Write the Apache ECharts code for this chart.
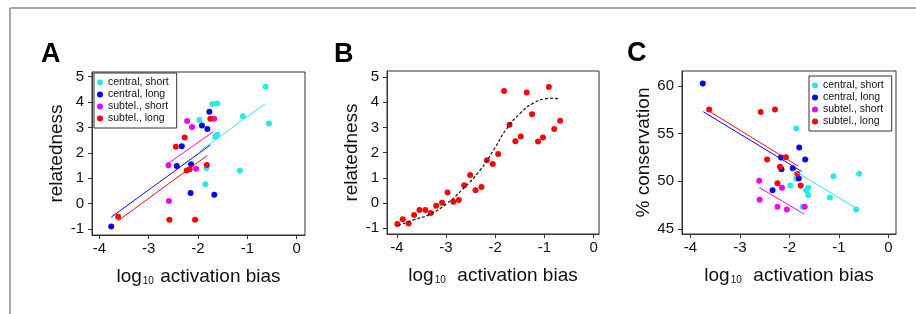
<!DOCTYPE html>
<html>
<head>
<meta charset="utf-8">
<script src="https://cdn.jsdelivr.net/npm/echarts@6/dist/echarts.min.js"></script>
<style>
  html, body { margin: 0; padding: 0; background: #fff; }
  #chart { width: 916px; height: 314px; }
</style>
</head>
<body>
<div id="chart"></div>
<script>
  // group names (legend)
  var groups = ['central, short', 'central, long', 'subtel., short', 'subtel., long'];
  var groupColors = ['#2fe6e6', '#0808e8', '#ee08ee', '#f00a0a'];

  // panel A: relatedness vs log10 activation bias
  var relCentralShort = [[-0.63, 4.6], [-0.56, 3.15], [-1.09, 3.44], [-1.15, 1.3], [-1.71, 3.92], [-1.61, 3.94],
    [-1.97, 3.29], [-1.61, 2.71], [-1.65, 2.63], [-1.83, 1.4], [-1.85, 0.77]];
  var relCentralLong = [[-3.76, -0.9], [-2.43, 1.48], [-2.33, 2.26], [-2.14, 1.55], [-2.15, 0.42], [-1.92, 3.08],
    [-1.81, 2.94], [-1.77, 3.62], [-1.67, 0.35]];
  var relSubtelShort = [[-2.6, 1.51], [-2.59, 0.11], [-2.22, 3.25], [-2.12, 3.02], [-2.04, 1.38], [-1.67, 3.34]];
  var relSubtelLong = [[-3.62, -0.51], [-2.58, -0.63], [-2.45, 2.24], [-2.27, 2.6], [-2.23, 1.31], [-2.17, 1.36],
    [-2.06, -0.63], [-1.82, 1.52], [-1.75, 3.34]];
  // fitted lines (end points)
  var relFitCentralShort = [[-1.96, 2.07], [-0.64, 3.93]];
  var relFitCentralLong = [[-3.76, -0.53], [-1.75, 2.31]];
  var relFitSubtelShort = [[-2.62, 1.56], [-1.69, 2.83]];
  var relFitSubtelLong = [[-3.62, -0.67], [-1.81, 1.9]];

  // panel B: all genes binned
  var relBinned = [[-3.99, -0.83], [-3.88, -0.64], [-3.76, -0.81], [-3.65, -0.48], [-3.54, -0.28], [-3.42, -0.28],
    [-3.31, -0.4], [-3.2, -0.11], [-3.08, 0.01], [-2.97, 0.42], [-2.85, 0.05], [-2.74, 0.12], [-2.63, 0.71],
    [-2.51, 1.11], [-2.4, 0.51], [-2.28, 0.64], [-2.17, 1.7], [-2.05, 1.55], [-1.94, 1.95], [-1.82, 4.45],
    [-1.71, 3.11], [-1.59, 2.45], [-1.48, 2.64], [-1.36, 4.39], [-1.25, 3.52], [-1.13, 2.44], [-1.03, 2.6],
    [-0.91, 4.6], [-0.8, 2.94], [-0.68, 3.27]];
  var relCurve = [[-3.97, -0.89], [-3.66, -0.67], [-3.32, -0.44], [-2.99, -0.03], [-2.65, 0.57], [-2.31, 1.3],
    [-2.04, 2.08], [-1.77, 2.94], [-1.5, 3.55], [-1.23, 3.96], [-0.96, 4.14], [-0.82, 4.16], [-0.69, 4.12]];

  // panel C: % conservation
  var consCentralShort = [[-1.86, 55.54], [-1.86, 50.3], [-1.98, 49.57], [-1.66, 49.08], [-1.62, 49.32], [-1.62, 48.56],
    [-1.73, 47.33], [-1.11, 50.54], [-0.59, 50.79], [-1.18, 48.31], [-0.65, 47.06]];
  var consCentralLong = [[-3.75, 60.25], [-2.17, 52.5], [-2.16, 51.28], [-1.8, 53.55], [-1.68, 52.29], [-1.93, 51.38],
    [-1.81, 50.3], [-2.34, 49.08]];
  var consSubtelShort = [[-2.61, 50.05], [-2.6, 48.06], [-2.15, 49.32], [-2.24, 47.33], [-2.05, 47.06], [-1.69, 47.33]];
  var consSubtelLong = [[-3.62, 57.53], [-2.58, 57.28], [-2.29, 57.53], [-2.45, 52.29], [-2.07, 52.53], [-2.19, 51.52],
    [-2.24, 49.81], [-1.84, 50.79], [-1.77, 49.57]];
  var consFitCentralShort = [[-1.92, 51.17], [-0.66, 47.22]];
  var consFitCentralLong = [[-3.74, 57.3], [-1.75, 51.04]];
  var consFitSubtelShort = [[-2.61, 49.36], [-1.7, 46.57]];
  var consFitSubtelLong = [[-3.65, 57.45], [-1.82, 51.59]];

  // tick labels
  var xTicks = [-4, -3, -2, -1, 0];
  var relTicks = [-1, 0, 1, 2, 3, 4, 5];
  var consTicks = [45, 50, 55, 60];

  var FONT = 'Liberation Sans, Arial, Helvetica, sans-serif';
  var myChart = echarts.init(document.getElementById('chart'));

  function xAxisFor(i, min, max, gap) {
    return {
      gridIndex: i, type: 'value', min: min, max: max,
      splitLine: { show: false },
      axisLine: { show: true, onZero: false, lineStyle: { color: '#333', width: 1 } },
      axisTick: { show: true, length: 4, customValues: xTicks, lineStyle: { color: '#333' } },
      axisLabel: { customValues: xTicks, fontSize: 15, color: '#111', margin: 6, fontFamily: FONT },
      name: '{a|log}{s|10}{a|' + gap + 'activation bias}',
      nameLocation: 'middle', nameGap: 29,
      nameTextStyle: {
        rich: {
          a: { fontSize: 19, color: '#111', fontFamily: FONT, lineHeight: 22, verticalAlign: 'bottom' },
          s: { fontSize: 10, color: '#111', fontFamily: FONT, lineHeight: 10, verticalAlign: 'bottom', padding: [0, 1, 0, 1] }
        }
      }
    };
  }

  function yAxisFor(i, min, max, ticks, name, gap) {
    return {
      gridIndex: i, type: 'value', min: min, max: max,
      splitLine: { show: false },
      axisLine: { show: true, onZero: false, lineStyle: { color: '#333', width: 1 } },
      axisTick: { show: true, length: 4, customValues: ticks, lineStyle: { color: '#333' } },
      axisLabel: { customValues: ticks, fontSize: 15, color: '#111', margin: 8, fontFamily: FONT },
      name: name, nameLocation: 'middle', nameGap: gap,
      nameTextStyle: { fontSize: 19, color: '#111', fontFamily: FONT }
    };
  }

  function dots(name, data, idx, color) {
    return {
      name: name, type: 'scatter', xAxisIndex: idx, yAxisIndex: idx, data: data,
      symbol: 'circle', symbolSize: 6, itemStyle: { color: color, opacity: 1 }, silent: true
    };
  }

  function fit(name, data, idx, color) {
    return {
      name: name, type: 'line', xAxisIndex: idx, yAxisIndex: idx, data: data,
      symbol: 'none', lineStyle: { color: color, width: 1 }, silent: true, z: 3
    };
  }

  function legendAt(left, top) {
    return {
      orient: 'vertical', left: left, top: top, data: groups,
      icon: 'circle', itemWidth: 6, itemHeight: 6, itemGap: 1,
      padding: [4, 8, 4, 3],
      borderColor: '#333', borderWidth: 1, backgroundColor: '#fff',
      textStyle: { fontSize: 10.5, color: '#111', fontFamily: FONT, lineHeight: 11 },
      selectedMode: false
    };
  }

  var frameGrid = { show: true, borderColor: '#333', borderWidth: 1, backgroundColor: 'transparent' };

  var option = {
    animation: false,
    backgroundColor: '#fff',
    grid: [
      Object.assign({ left: 92, top: 72, width: 213, height: 163 }, frameGrid),
      Object.assign({ left: 387, top: 71, width: 212, height: 163 }, frameGrid),
      Object.assign({ left: 682, top: 71, width: 214, height: 163 }, frameGrid)
    ],
    xAxis: [
      xAxisFor(0, -4.15, 0.17, ' '),
      xAxisFor(1, -4.2, 0.11, '  '),
      xAxisFor(2, -4.17, 0.155, '  ')
    ],
    yAxis: [
      yAxisFor(0, -1.23, 5.18, relTicks, 'relatedness', 24),
      yAxisFor(1, -1.23, 5.24, relTicks, 'relatedness', 24),
      yAxisFor(2, 44.48, 61.57, consTicks, '% conservation', 29)
    ],
    legend: [legendAt(94, 73), legendAt(809, 76)],
    graphic: [
      { type: 'line', shape: { x1: 10, y1: 8, x2: 916, y2: 8 }, style: { stroke: '#8a8a8a', lineWidth: 1.5 } },
      { type: 'line', shape: { x1: 10, y1: 8, x2: 10, y2: 314 }, style: { stroke: '#8a8a8a', lineWidth: 1.5 } },
      { type: 'text', left: 41, top: 41, style: { text: 'A', font: 'bold 27px ' + FONT, fill: '#000' } },
      { type: 'text', left: 334, top: 41, style: { text: 'B', font: 'bold 27px ' + FONT, fill: '#000' } },
      { type: 'text', left: 627, top: 40, style: { text: 'C', font: 'bold 27px ' + FONT, fill: '#000' } }
    ],
    series: [
      dots(groups[0], relCentralShort, 0, groupColors[0]),
      dots(groups[1], relCentralLong, 0, groupColors[1]),
      dots(groups[2], relSubtelShort, 0, groupColors[2]),
      dots(groups[3], relSubtelLong, 0, groupColors[3]),
      fit('fitA cs', relFitCentralShort, 0, groupColors[0]),
      fit('fitA cl', relFitCentralLong, 0, groupColors[1]),
      fit('fitA ss', relFitSubtelShort, 0, groupColors[2]),
      fit('fitA sl', relFitSubtelLong, 0, groupColors[3]),

      dots('binned', relBinned, 1, groupColors[3]),
      {
        name: 'sigmoid', type: 'line', xAxisIndex: 1, yAxisIndex: 1, data: relCurve,
        smooth: true, symbol: 'none', silent: true, z: 3,
        lineStyle: { color: '#111', width: 1.2, type: [3, 2] }
      },

      dots(groups[0], consCentralShort, 2, groupColors[0]),
      dots(groups[1], consCentralLong, 2, groupColors[1]),
      dots(groups[2], consSubtelShort, 2, groupColors[2]),
      dots(groups[3], consSubtelLong, 2, groupColors[3]),
      fit('fitC cs', consFitCentralShort, 2, groupColors[0]),
      fit('fitC cl', consFitCentralLong, 2, groupColors[1]),
      fit('fitC ss', consFitSubtelShort, 2, groupColors[2]),
      fit('fitC sl', consFitSubtelLong, 2, groupColors[3])
    ]
  };

  myChart.setOption(option);
</script>
</body>
</html>
